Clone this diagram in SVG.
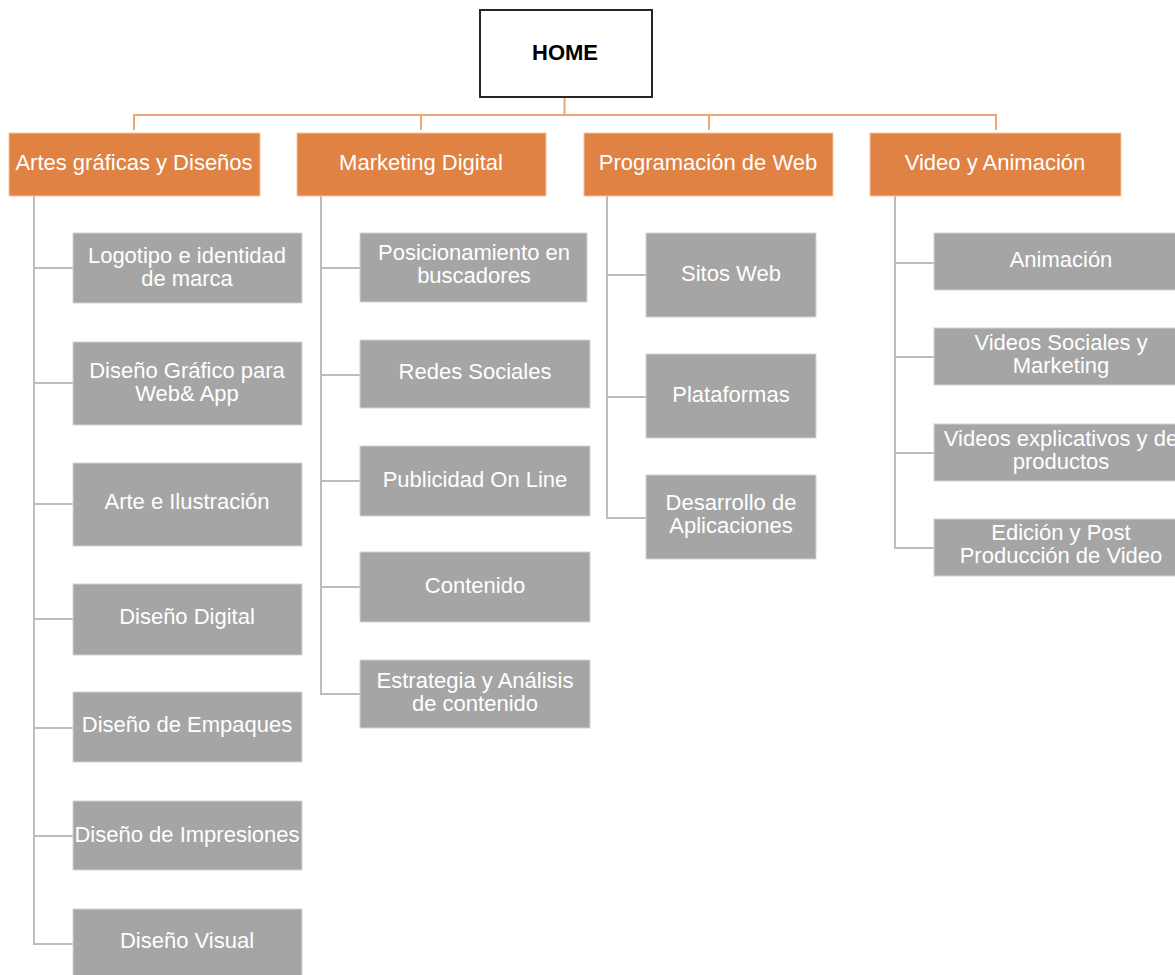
<svg xmlns="http://www.w3.org/2000/svg" width="1175" height="975" viewBox="0 0 1175 975">
<style>
.home{fill:#fff;stroke:#262626;stroke-width:2}
.cat{fill:#E08244;stroke:#F3C6A5;stroke-width:1}
.sub{fill:#A5A5A5;stroke:#D4D4D4;stroke-width:1}
.t{font-family:"Liberation Sans",Arial,sans-serif;font-size:22px;fill:#fff;text-anchor:middle}
.th{font-family:"Liberation Sans",Arial,sans-serif;font-size:22px;font-weight:bold;fill:#000;text-anchor:middle}
.oc{fill:none;stroke:#EFA674;stroke-width:2}
.gc{fill:none;stroke:#BDBDBD;stroke-width:2}
</style>
<rect width="1175" height="975" fill="#fff"/>
<g id="connectors">
<path class="oc" d="M564.5 97V115M134 130V115H996V130M421 115V130M709 115V130"/>
<path class="gc" d="M34 196V944H73M34 268H73M34 383H73M34 504H73M34 619H73M34 728H73M34 836H73"/>
<path class="gc" d="M321 196V694H360M321 268H360M321 375H360M321 481H360M321 587H360"/>
<path class="gc" d="M607 196V518H646M607 275H646M607 397H646"/>
<path class="gc" d="M895 196V548H934M895 263H934M895 357H934M895 453H934"/>
</g>
<g id="home"><rect class="home" x="480" y="10" width="172" height="87"/><text class="th" x="565" y="60">HOME</text></g>
<g id="cat-artes"><rect class="cat" x="9" y="133" width="251" height="63"/><text class="t" x="134" y="170">Artes gráficas y Diseños</text></g>
<g id="cat-marketing"><rect class="cat" x="297" y="133" width="249" height="63"/><text class="t" x="421" y="170">Marketing Digital</text></g>
<g id="cat-programacion"><rect class="cat" x="584" y="133" width="249" height="63"/><text class="t" x="708" y="170">Programación de Web</text></g>
<g id="cat-video"><rect class="cat" x="870" y="133" width="251" height="63"/><text class="t" x="995" y="170">Video y Animación</text></g>

<g id="logotipo"><rect class="sub" x="73" y="233" width="229" height="70"/><text class="t" x="187" y="263">Logotipo e identidad</text><text class="t" x="187" y="286">de marca</text></g>
<g id="disenografico"><rect class="sub" x="73" y="342" width="229" height="83"/><text class="t" x="187" y="378">Diseño Gráfico para</text><text class="t" x="187" y="401">Web&amp; App</text></g>
<g id="arte"><rect class="sub" x="73" y="463" width="229" height="83"/><text class="t" x="187" y="509">Arte e Ilustración</text></g>
<g id="disenodigital"><rect class="sub" x="73" y="584" width="229" height="71"/><text class="t" x="187" y="624">Diseño Digital</text></g>
<g id="empaques"><rect class="sub" x="73" y="692" width="229" height="70"/><text class="t" x="187" y="732">Diseño de Empaques</text></g>
<g id="impresiones"><rect class="sub" x="73" y="801" width="229" height="69"/><text class="t" x="187" y="842">Diseño de Impresiones</text></g>
<g id="visual"><rect class="sub" x="73" y="909" width="229" height="70"/><text class="t" x="187" y="948">Diseño Visual</text></g>

<g id="posicionamiento"><rect class="sub" x="360" y="233" width="227" height="69"/><text class="t" x="474" y="260">Posicionamiento en</text><text class="t" x="474" y="283">buscadores</text></g>
<g id="redes"><rect class="sub" x="360" y="340" width="230" height="68"/><text class="t" x="475" y="379">Redes Sociales</text></g>
<g id="publicidad"><rect class="sub" x="360" y="446" width="230" height="70"/><text class="t" x="475" y="487">Publicidad On Line</text></g>
<g id="contenido"><rect class="sub" x="360" y="552" width="230" height="70"/><text class="t" x="475" y="593">Contenido</text></g>
<g id="estrategia"><rect class="sub" x="360" y="660" width="230" height="68"/><text class="t" x="475" y="688">Estrategia y Análisis</text><text class="t" x="475" y="711">de contenido</text></g>

<g id="sitios"><rect class="sub" x="646" y="233" width="170" height="84"/><text class="t" x="731" y="281">Sitos Web</text></g>
<g id="plataformas"><rect class="sub" x="646" y="354" width="170" height="84"/><text class="t" x="731" y="402">Plataformas</text></g>
<g id="desarrollo"><rect class="sub" x="646" y="475" width="170" height="84"/><text class="t" x="731" y="510">Desarrollo de</text><text class="t" x="731" y="533">Aplicaciones</text></g>

<g id="animacion"><rect class="sub" x="934" y="233" width="254" height="57"/><text class="t" x="1061" y="267">Animación</text></g>
<g id="videossociales"><rect class="sub" x="934" y="328" width="254" height="57"/><text class="t" x="1061" y="350">Videos Sociales y</text><text class="t" x="1061" y="373">Marketing</text></g>
<g id="videosexplicativos"><rect class="sub" x="934" y="424" width="254" height="57"/><text class="t" x="1061" y="446">Videos explicativos y de</text><text class="t" x="1061" y="469">productos</text></g>
<g id="edicion"><rect class="sub" x="934" y="519" width="254" height="57"/><text class="t" x="1061" y="540">Edición y Post</text><text class="t" x="1061" y="563">Producción de Video</text></g>
</svg>
